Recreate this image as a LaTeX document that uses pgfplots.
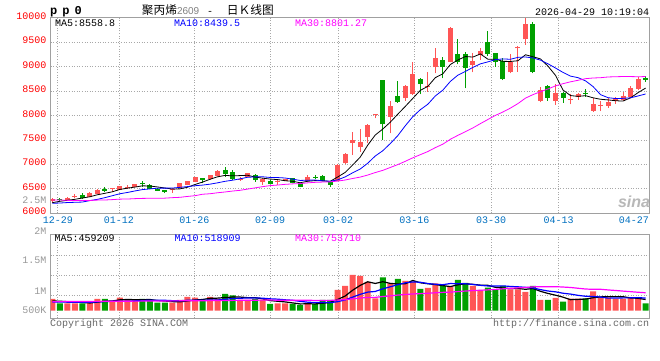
\documentclass[border=0pt]{standalone}
\usepackage{fontspec}
\setmainfont{Liberation Mono}
\newfontfamily\cjk{Noto Sans CJK SC}
\newfontfamily\lsans{Liberation Sans}
\usepackage{pgfplots}
\usepackage{pgfplotstable}
\pgfplotsset{compat=1.18}
\definecolor{kred}{HTML}{FF5555}
\definecolor{kgreen}{HTML}{00A000}
\definecolor{frameC}{HTML}{A0A0A0}
\definecolor{gridC}{HTML}{A8A8A8}
\definecolor{dateC}{HTML}{0070C0}
\definecolor{lblGray}{HTML}{999999}
\definecolor{maBlue}{HTML}{0000FF}
\definecolor{maMag}{HTML}{FF00FF}
\definecolor{titleGray}{HTML}{808080}
\newcommand{\fs}{\fontsize{10}{12}\selectfont}

\pgfplotstableread{
i O H L C V
0 6252 6319 6217 6292 480
2 6266 6325 6255 6313 303
3 6338 6389 6307 6358 303
5 6339 6430 6330 6421 369
6 6401 6490 6395 6483 480
8 6490 6525 6436 6517 369
9 6476 6565 6470 6558 533
10 6528 6585 6503 6548 439
11 6544 6600 6535 6593 439
16 6471 6517 6421 6491 328
17 6517 6620 6510 6614 439
18 6579 6670 6570 6661 562
19 6640 6750 6635 6742 533
21 6695 6790 6688 6783 562
22 6763 6895 6755 6865 480
25 6690 6742 6661 6710 439
26 6742 6830 6735 6814 439
28 6646 6722 6579 6695 439
30 6641 6681 6579 6661 303
31 6667 6705 6660 6695 303
34 6667 6783 6660 6748 303
38 6670 7000 6660 6988 849
39 7023 7225 7010 7213 1013
40 7444 7656 7192 7499 1464
41 7350 7718 7260 7464 1423
42 7554 7820 7432 7806 1177
43 8005 8035 7943 8025 508
45 7975 8297 7636 8200 1123
47 8352 8615 8297 8603 1218
48 8434 9088 8419 8843 1189
50 8589 8883 8487 8609 931
51 8986 9374 8863 9170 1123
53 9100 9800 9090 9796 984
56 9033 9272 8883 9115 1013
57 9237 9374 9135 9319 849
61 8883 9252 8863 9100 877
62 9375 9427 8896 9395 877
63 9558 9988 9442 9871 767
65 8297 8589 8270 8522 439
67 8297 8638 8215 8454 521
69 8317 8434 8229 8337 492
70 8372 8454 8327 8434 492
72 8098 8364 8078 8235 790
73 8195 8297 8092 8215 549
74 8200 8352 8160 8270 549
75 8297 8385 8241 8352 492
76 8311 8475 8297 8405 492
77 8385 8609 8372 8569 533
78 8542 8794 8522 8746 475
}\redtab

\pgfplotstableread{
i O H L C V
1 6300 6315 6245 6280 303
4 6368 6409 6286 6319 303
7 6503 6538 6436 6462 480
12 6615 6654 6544 6595 480
13 6579 6590 6490 6497 398
14 6503 6515 6455 6462 328
15 6476 6480 6415 6436 328
20 6716 6725 6614 6681 439
23 6885 6953 6748 6804 685
24 6838 6885 6690 6695 631
27 6783 6804 6646 6681 480
29 6667 6680 6590 6599 275
32 6716 6725 6620 6626 275
33 6614 6620 6535 6544 234
35 6752 6777 6695 6732 275
36 6769 6783 6660 6667 439
37 6640 6650 6538 6579 439
44 8726 8730 7499 7820 1369
46 8399 8706 8262 8282 1300
49 8746 8760 8434 8644 890
52 9135 9202 8761 8998 1013
54 9258 9558 9047 9100 1259
55 9252 9292 8556 8965 1136
58 9497 9734 9223 9258 943
59 9272 9280 8998 9100 849
60 9115 9182 8726 8746 1013
64 9871 9918 8863 8896 1013
66 8609 8624 8297 8364 439
68 8466 8475 8262 8364 369
71 8460 8542 8385 8440 508
79 8773 8808 8691 8732 300
}\greentab

\pgfplotstableread{
i m5 m10 m30 v5 v10 v30
0 6217 6205 6272 398 360 370
1 6245 6210 6272 390 355 372
2 6266 6220 6265 370 350 374
3 6286 6225 6262 350 345 376
4 6312 6230 6262 338 340 378
5 6338 6260 6262 316 345 380
6 6379 6285 6270 352 360 382
7 6409 6320 6272 387 375 384
8 6440 6360 6280 400 385 386
9 6488 6400 6290 446 392 388
10 6514 6426 6292 460 388 390
11 6536 6457 6300 452 402 392
12 6562 6485 6305 452 420 394
13 6558 6499 6307 458 429 396
14 6539 6514 6307 417 432 398
15 6517 6515 6310 395 427 400
16 6496 6516 6320 372 412 402
17 6500 6531 6327 364 408 404
18 6533 6546 6345 397 427 406
19 6589 6564 6360 438 427 408
20 6638 6577 6390 460 427 410
21 6696 6596 6400 507 440 413
22 6746 6623 6420 515 440 416
23 6775 6654 6436 540 468 419
24 6766 6677 6455 559 499 422
25 6771 6705 6470 559 510 425
26 6778 6737 6495 535 521 428
27 6741 6744 6520 535 525 431
28 6719 6747 6545 486 513 434
29 6700 6733 6566 414 487 436
30 6690 6731 6578 387 473 430
31 6666 6722 6592 360 447 430
32 6655 6698 6602 319 427 429
33 6625 6672 6608 278 382 426
34 6655 6677 6623 284 349 426
35 6669 6680 6633 278 333 423
36 6663 6665 6639 305 333 422
37 6654 6655 6643 338 329 421
38 6743 6684 6659 461 370 437
39 6836 6745 6681 603 443 453
40 6989 6829 6712 841 559 487
41 7149 6906 6741 1038 671 520
42 7394 7024 6782 1185 762 543
43 7601 7172 6833 1117 789 546
44 7723 7279 6878 1188 896 581
45 7863 7426 6937 1120 980 608
46 8027 7588 6996 1095 1067 640
47 8186 7790 7063 1104 1144 666
48 8350 7976 7135 1240 1178 687
49 8514 8119 7199 1144 1166 699
50 8596 8230 7263 1106 1113 715
51 8774 8400 7343 1070 1083 734
52 8853 8519 7414 1029 1066 752
53 9043 8697 7514 988 1114 762
54 9135 8825 7594 1062 1103 783
55 9206 8901 7669 1103 1104 806
56 9195 8984 7746 1081 1076 825
57 9259 9056 7834 1048 1039 837
58 9151 9097 7919 1040 1014 854
59 9151 9143 8002 958 1010 873
60 9108 9157 8072 933 1018 897
61 9105 9150 8152 906 994 916
62 9120 9189 8244 912 980 936
63 9242 9197 8355 877 958 954
64 9202 9177 8427 909 934 977
65 9157 9132 8486 795 864 983
66 9010 9057 8543 707 807 983
67 8821 8971 8606 636 774 986
68 8520 8881 8651 556 716 970
69 8408 8805 8689 452 681 952
70 8391 8774 8720 463 629 920
71 8406 8708 8753 476 592 889
72 8362 8592 8767 530 583 876
73 8332 8426 8773 566 561 878
74 8319 8364 8788 578 515 851
75 8302 8347 8793 578 520 829
76 8295 8351 8797 574 525 803
77 8362 8362 8796 523 527 780
78 8468 8400 8793 508 537 756
79 8561 8440 8796 458 518 736
}\matab

\pgfplotsset{
  kpanel/.style={
    scale only axis, width=598.6pt,
    xmin=-0.213, xmax=79.49,
    scaled x ticks=false, scaled y ticks=false,
    axis line style={draw=frameC, line width=1.5pt},
    major tick length=0pt, tick style={draw=none},
    major grid style={draw=gridC, line width=0.8pt, dash pattern=on 1pt off 1.6pt},
  },
  wick/.style={draw=none, mark=none, error bars/.cd, y dir=plus, y explicit, error mark=none,
    error bar style={line width=1pt, draw=#1, solid}},
  body/.style={draw=none, mark=none, error bars/.cd, y dir=plus, y explicit, error mark=none,
    error bar style={line width=5pt, draw=#1, solid}},
}

\begin{document}
\begin{tikzpicture}
\path[use as bounding box, fill=white] (0pt,0pt) rectangle (660pt,360pt);

% ---------- price panel ----------
\begin{axis}[kpanel,
  at={(50.7pt,146.7pt)}, anchor=south west, height=195.6pt,
  ymin=6000, ymax=10000,
  ytick={6000,6500,7000,7500,8000,8500,9000,9500,10000},
  yticklabels={6000,6500,7000,7500,8000,8500,9000,9500,10000},
  yticklabel style={text=red, inner sep=0pt, xshift=-4pt, yshift=1.7pt, font=\fs},
  ymajorgrids,
  extra y ticks={6272}, extra y tick labels={2.5M},
  extra y tick style={grid=none, yticklabel style={text=lblGray, yshift=-1.7pt}},
  xtick={0.73,8.88,18.91,28.99,38.07,48.2,58.42,67.4,77.43},
  xticklabels={12-29,01-12,01-26,02-09,03-02,03-16,03-30,04-13,04-27},
  xticklabel style={text=dateC, inner sep=0pt, yshift=-3.5pt, font=\fs},
  extra x ticks={0.73,8.88,18.91,28.99,38.07,48.2,58.42,67.4},
  extra x tick labels={},
  extra x tick style={grid=major},
]
\addplot[wick=kred] table[x=i, y=L, y error plus expr={\thisrow{H}-\thisrow{L}}] {\redtab};
\addplot[body=kred] table[x=i, y=O, y error plus expr={\thisrow{C}-\thisrow{O}}] {\redtab};
\addplot[wick=kgreen] table[x=i, y=L, y error plus expr={\thisrow{H}-\thisrow{L}}] {\greentab};
\addplot[body=kgreen] table[x=i, y=C, y error plus expr={\thisrow{O}-\thisrow{C}}] {\greentab};
\addplot[black, line width=0.8pt, mark=none] table[x=i, y=m5] {\matab};
\addplot[maBlue, line width=0.8pt, mark=none] table[x=i, y=m10] {\matab};
\addplot[maMag, line width=0.8pt, mark=none] table[x=i, y=m30] {\matab};
\end{axis}

% ---------- volume panel ----------
\begin{axis}[kpanel,
  at={(50.7pt,41.7pt)}, anchor=south west, height=84pt,
  ymin=-312, ymax=3132,
  xtick={0.73,8.88,18.91,28.99,38.07,48.2,58.42,67.4}, xticklabels={},
  xmajorgrids,
  ytick={644,1464,2284}, yticklabels={}, ymajorgrids,
  extra y ticks={0,816,2050}, extra y tick labels={500K,1M,1.5M},
  extra y tick style={grid=none},
  yticklabel style={text=lblGray, inner sep=0pt, xshift=-4pt, font=\fs},
]
\addplot[ybar, bar width=6pt, bar shift=0pt, fill=kred, draw=none] table[x=i, y=V] {\redtab};
\addplot[ybar, bar width=6pt, bar shift=0pt, fill=kgreen, draw=none] table[x=i, y=V] {\greentab};
\addplot[black, line width=1.2pt, mark=none] table[x=i, y=v5] {\matab};
\addplot[maBlue, line width=1.2pt, mark=none] table[x=i, y=v10] {\matab};
\addplot[maMag, line width=1.2pt, mark=none] table[x=i, y=v30] {\matab};
\end{axis}

% ---------- texts ----------
\node[anchor=west, inner sep=0pt, font=\bfseries\fontsize{12}{12}\selectfont] at (50pt,348.3pt) {p\hspace{5pt}p\hspace{5pt}0};
\node[anchor=west, inner sep=0pt] at (141.7pt,350pt)
  {{\cjk\fontsize{11.7}{12}\selectfont 聚丙烯}{\lsans\fontsize{10}{12}\selectfont\color{titleGray}2609}\hspace{8pt}{\fs -}\hspace{13.7pt}{\cjk\fontsize{11.7}{12}\selectfont 日Ｋ线图}};
\node[anchor=east, inner sep=0pt, font=\fs] at (649.3pt,348pt) {2026-04-29 10:19:04};
\node[anchor=west, inner sep=0pt, font=\fs] at (55pt,336.3pt) {MA5:8558.8};
\node[anchor=west, inner sep=0pt, font=\fs, text=maBlue] at (174pt,336.3pt) {MA10:8439.5};
\node[anchor=west, inner sep=0pt, font=\fs, text=maMag] at (295pt,336.3pt) {MA30:8801.27};
\node[anchor=west, inner sep=0pt, font=\fs] at (54.3pt,122.2pt) {MA5:459209};
\node[anchor=west, inner sep=0pt, font=\fs, text=maBlue] at (174.3pt,122.2pt) {MA10:518909};
\node[anchor=west, inner sep=0pt, font=\fs, text=maMag] at (295pt,122.2pt) {MA30:753710};
\node[anchor=east, inner sep=0pt, font=\fs, text=lblGray] at (46.7pt,129.3pt) {2M};
\node[anchor=west, inner sep=0pt, font=\fs, text=titleGray!80!black] at (50pt,36.5pt) {Copyright 2026 SINA.COM};
\node[anchor=east, inner sep=0pt, font=\fs, text=titleGray!80!black] at (649.3pt,36.3pt) {http://finance.sina.com.cn};
\node[inner sep=0pt, font=\lsans\bfseries\itshape\fontsize{16}{16}\selectfont, text=lblGray!70] at (634pt,158.5pt) {sina};
\end{tikzpicture}
\end{document}
